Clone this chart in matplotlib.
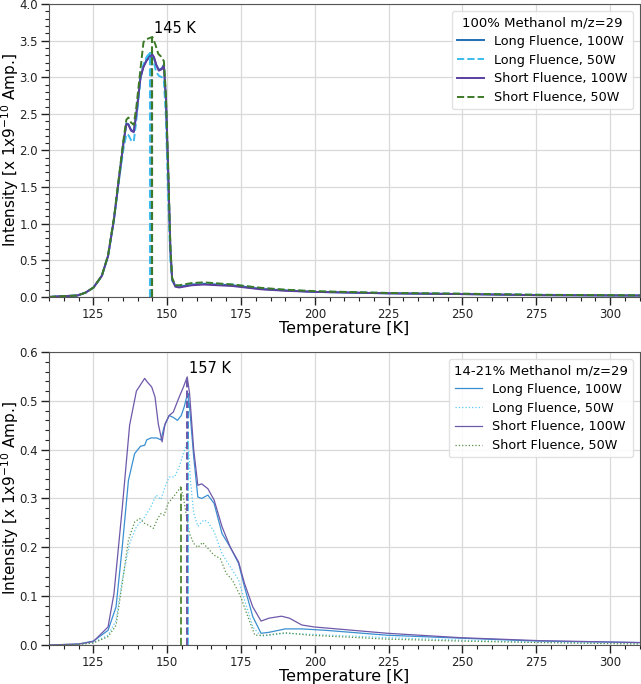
import numpy as np
import matplotlib
matplotlib.use("Agg")
import matplotlib.pyplot as plt
from matplotlib.ticker import AutoMinorLocator, MultipleLocator

# --- 100% methanol, m/z=29 (top panel) ---
t_long100 = [110, 114, 119.6, 122.4, 125.1, 127.9, 130, 132, 133.8, 135.2, 136.2, 136.9, 137.8, 138.7,
             139.6, 141, 142, 143.1, 144.5, 145.4, 146.3, 147.2, 148.2, 148.9, 149.6, 150.3, 151.1,
             151.7, 152.8, 154.1, 158.3, 162.4, 172.1, 181.8, 190, 199.7, 224.6, 249.4, 275.7, 310]
v_long100 = [0.0, 0.01, 0.02, 0.06, 0.13, 0.29, 0.56, 1.06, 1.65, 2.1, 2.37, 2.36, 2.28, 2.26,
             2.51, 3.01, 3.15, 3.24, 3.32, 3.28, 3.17, 3.1, 3.12, 3.17, 2.69, 1.78, 0.65,
             0.24, 0.15, 0.14, 0.17, 0.18, 0.16, 0.11, 0.09, 0.07, 0.05, 0.04, 0.025, 0.02]

t_long50 = [110, 114, 119.6, 122.4, 125.1, 127.9, 130, 132, 133.8, 135.2, 136.2, 136.9, 137.8, 138.7,
            139.6, 141, 142, 143.1, 144.3, 145.4, 146.3, 147.2, 148.2, 148.9, 149.6, 150.3, 151.1,
            151.7, 152.8, 154.1, 158.3, 162.4, 172.1, 181.8, 190, 199.7, 224.6, 249.4, 275.7, 310]
v_long50 = [0.0, 0.01, 0.02, 0.06, 0.13, 0.29, 0.56, 1.06, 1.62, 2.02, 2.22, 2.21, 2.14, 2.12,
            2.42, 2.98, 3.18, 3.28, 3.34, 3.22, 3.07, 3.02, 3.0, 2.95, 2.45, 1.4, 0.5,
            0.22, 0.16, 0.15, 0.18, 0.19, 0.17, 0.12, 0.095, 0.075, 0.055, 0.045, 0.03, 0.02]

t_short100 = [110, 114, 119.6, 122.4, 125.1, 127.9, 130, 132, 133.8, 135.2, 136.2, 136.9, 137.8, 138.7,
              139.6, 141, 142, 143.1, 145, 145.6, 146.3, 147.2, 148.2, 148.9, 149.6, 150.3, 151.1,
              151.7, 152.8, 154.1, 158.3, 162.4, 172.1, 181.8, 190, 199.7, 224.6, 249.4, 275.7, 310]
v_short100 = [0.0, 0.01, 0.02, 0.06, 0.13, 0.29, 0.56, 1.06, 1.65, 2.1, 2.36, 2.35, 2.27, 2.25,
              2.5, 3.0, 3.14, 3.23, 3.31, 3.27, 3.17, 3.09, 3.11, 3.16, 2.7, 1.8, 0.66,
              0.24, 0.14, 0.13, 0.16, 0.17, 0.15, 0.105, 0.085, 0.07, 0.05, 0.04, 0.025, 0.02]

t_short50 = [110, 114, 119.6, 122.4, 125.1, 127.9, 130, 132, 133.8, 135.2, 136.2, 136.9, 137.8, 138.7,
             139.6, 141, 142, 143.1, 145, 146, 147, 148, 148.9, 149.6, 150.3, 151.1,
             151.7, 152.8, 154.1, 158.3, 162.4, 172.1, 181.8, 190, 199.7, 224.6, 249.4, 275.7, 310]
v_short50 = [0.0, 0.01, 0.02, 0.06, 0.13, 0.29, 0.57, 1.08, 1.68, 2.14, 2.42, 2.45, 2.38, 2.35,
             2.6, 3.12, 3.48, 3.52, 3.55, 3.45, 3.32, 3.28, 3.22, 2.75, 1.85, 0.7,
             0.26, 0.16, 0.16, 0.19, 0.2, 0.17, 0.125, 0.1, 0.08, 0.055, 0.045, 0.03, 0.022]

# --- 14-21% methanol, m/z=29 (bottom panel) ---
b_t_long100 = [110, 120, 125, 130, 132.7, 134.8, 136.9, 139, 141, 142.4, 143.1, 144.5, 146.5, 147.9,
               149, 150.7, 152.1, 153.5, 154.8, 155.8, 156.9, 157.6, 159, 160.4, 161.7, 163.8, 165.9,
               168.6, 171.4, 174.2, 176.2, 179, 181.8, 184.5, 190, 195.6, 203.9, 224.6, 249.4, 275.7, 310]
b_v_long100 = [0.0, 0.002, 0.008, 0.03, 0.078, 0.2, 0.337, 0.392, 0.407, 0.409, 0.42, 0.424, 0.424, 0.42,
               0.447, 0.47, 0.466, 0.46, 0.47, 0.488, 0.515, 0.488, 0.385, 0.303, 0.3, 0.307, 0.29,
               0.228, 0.2, 0.167, 0.119, 0.058, 0.024, 0.026, 0.033, 0.033, 0.03, 0.02, 0.014, 0.008, 0.005]

b_t_long50 = [110, 120, 125, 130, 132.7, 134.8, 137.3, 139.6, 142.4, 144.5, 146.3, 147.9, 149.3, 150.7,
              152.5, 154.1, 155.5, 157.1, 157.9, 159, 160.4, 162.4, 163.8, 165.9, 168.6, 171.4, 174.2,
              176.2, 179, 181.8, 190, 198.3, 224.6, 249.4, 275.7, 310]
b_v_long50 = [0.0, 0.001, 0.005, 0.02, 0.05, 0.133, 0.208, 0.242, 0.262, 0.283, 0.307, 0.298, 0.324, 0.344,
              0.344, 0.365, 0.392, 0.42, 0.337, 0.27, 0.243, 0.256, 0.252, 0.232, 0.187, 0.16, 0.133,
              0.092, 0.037, 0.018, 0.024, 0.022, 0.015, 0.01, 0.006, 0.003]

b_t_short100 = [110, 120, 125, 130, 132, 134.8, 137.3, 139.6, 142.4, 143.1, 144.8, 145.9, 147, 148.3,
                149.3, 150.7, 152.1, 154.1, 155.5, 156.8, 157.6, 159, 160.4, 161.7, 163.8, 165.9, 168.6,
                171.4, 174.2, 176.2, 179, 181.8, 184.5, 188.7, 191.4, 195.6, 199.7, 224.6, 249.4, 275.7, 310]
b_v_short100 = [0.0, 0.002, 0.007, 0.037, 0.105, 0.28, 0.45, 0.52, 0.546, 0.54, 0.528, 0.508, 0.453, 0.416,
                0.453, 0.47, 0.477, 0.508, 0.528, 0.549, 0.515, 0.4, 0.327, 0.33, 0.32, 0.297, 0.242,
                0.2, 0.17, 0.126, 0.078, 0.049, 0.055, 0.059, 0.055, 0.041, 0.037, 0.024, 0.015, 0.009, 0.005]

b_t_short50 = [110, 120, 125, 130, 132.7, 134.8, 136.9, 139, 140.7, 142.4, 143.8, 145.4, 146.8, 147.9,
               149, 150.3, 152.1, 153.5, 154.6, 155.5, 156.6, 157.6, 159, 160.4, 162, 163.8, 165.9,
               168, 170, 172.1, 174.9, 176.9, 179.7, 183.2, 190, 198.3, 224.6, 249.4, 275.7, 310]
b_v_short50 = [0.0, 0.001, 0.004, 0.017, 0.04, 0.126, 0.215, 0.252, 0.259, 0.249, 0.245, 0.239, 0.259, 0.269,
               0.266, 0.29, 0.303, 0.314, 0.324, 0.303, 0.262, 0.228, 0.208, 0.2, 0.21, 0.198, 0.184,
               0.177, 0.147, 0.133, 0.099, 0.065, 0.02, 0.02, 0.025, 0.02, 0.012, 0.008, 0.005, 0.002]

labels = ["Long Fluence, 100W", "Long Fluence, 50W", "Short Fluence, 100W", "Short Fluence, 50W"]

top_series = [(t_long100, v_long100), (t_long50, v_long50), (t_short100, v_short100), (t_short50, v_short50)]
bot_series = [(b_t_long100, b_v_long100), (b_t_long50, b_v_long50),
              (b_t_short100, b_v_short100), (b_t_short50, b_v_short50)]

top_colors = ["#1f6fb4", "#3cbbec", "#5b3ea0", "#3d7a28"]
top_styles = ["-", "--", "-", "--"]
bot_colors = ["#3a8fd0", "#5ccaf2", "#6e58aa", "#5a8f44"]
bot_styles = ["-", ":", "-", ":"]

plt.rcParams['font.family'] = ['DejaVu Sans']

fig = plt.figure(figsize=(6.41, 6.84), dpi=100)
ax1 = fig.add_axes([0.0764, 0.5658, 0.9216, 0.4284])
ax2 = fig.add_axes([0.0764, 0.0570, 0.9216, 0.4284])


def panel(ax, series, colors, styles, lw, title, ymax, ystep, vlw):
    peak_t, peak_v = None, -1
    for (t, v), c, ls, lab in zip(series, colors, styles, labels):
        ax.plot(t, v, color=c, ls=ls, lw=lw, label=lab)
    # vertical markers at each series' maximum
    for (t, v), c in zip(series, colors):
        i = int(np.argmax(v))
        ax.vlines(t[i], 0, v[i], colors=c, linestyles="--", lw=vlw)
        if v[i] > peak_v:
            peak_t, peak_v = t[i], v[i]
    ax.annotate(f"{round(peak_t)} K", (peak_t, peak_v), xytext=(1, 1),
                textcoords="offset points", ha="left", va="bottom", fontsize=10.5)

    ax.set_xlim(110, 310)
    ax.set_ylim(0, ymax)
    ax.xaxis.set_major_locator(MultipleLocator(25))
    ax.yaxis.set_major_locator(MultipleLocator(ystep))
    ax.xaxis.set_minor_locator(AutoMinorLocator(5))
    ax.yaxis.set_minor_locator(AutoMinorLocator(5))
    ax.tick_params(which="major", length=6, width=1, labelsize=8.5, pad=2, colors="#222222")
    ax.tick_params(which="minor", length=3, width=0.8, colors="#222222")
    ax.grid(True, which="major", color="#d9d9d9", lw=0.9)
    ax.set_axisbelow(True)
    for s in ax.spines.values():
        s.set_color("#555555")
    ax.set_xlabel("Temperature [K]", fontsize=11.5, labelpad=0)
    ax.set_ylabel("Intensity [x 1x9$^{-10}$ Amp.]", fontsize=11)
    ax.yaxis.set_label_coords(-0.048, 0.5)
    leg = ax.legend(title=title, loc="upper right", fontsize=9.2, title_fontsize=9.5,
                    borderaxespad=0.55, handlelength=2.1, handletextpad=0.8,
                    labelspacing=0.45, framealpha=0.85)
    leg.get_frame().set_edgecolor("#dddddd")


panel(ax1, top_series, top_colors, top_styles, 1.4, "100% Methanol m/z=29", 4.0, 0.5, 1.5)
panel(ax2, bot_series, bot_colors, bot_styles, 0.9, "14-21% Methanol m/z=29", 0.6, 0.1, 1.4)

fig.savefig("out.png", dpi=100)
